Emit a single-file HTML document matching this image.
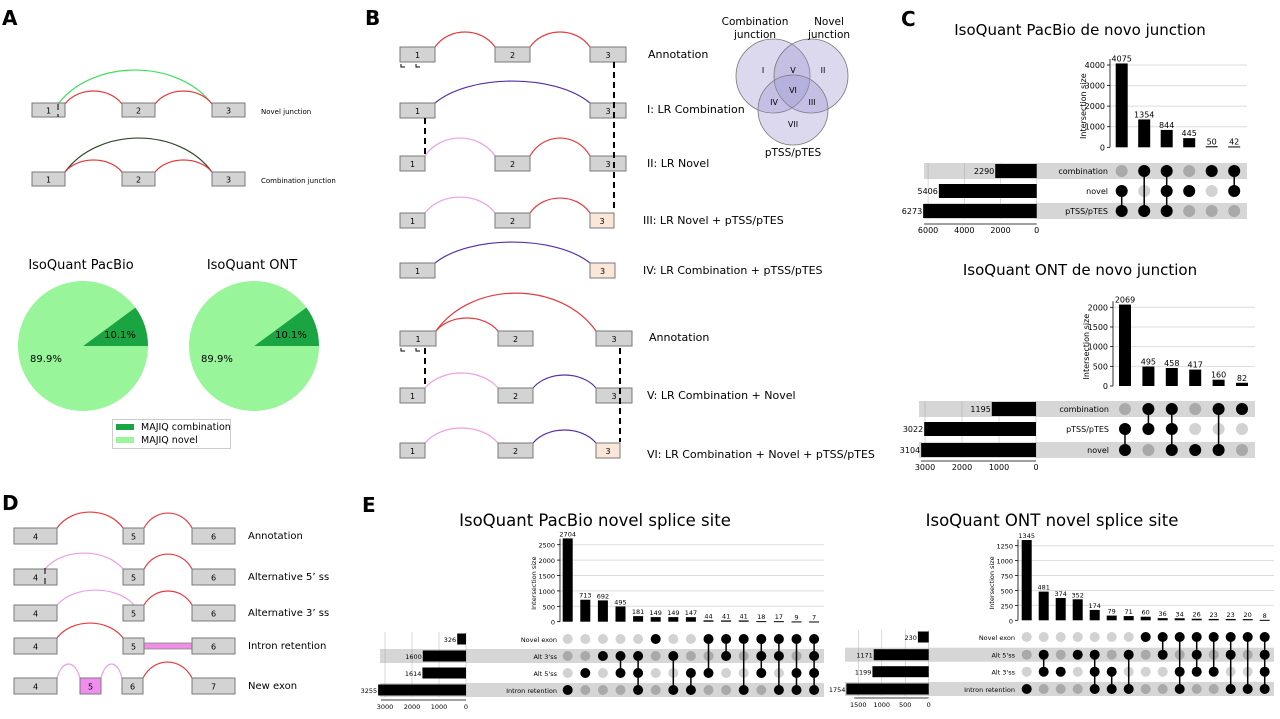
<!DOCTYPE html>
<html><head><meta charset="utf-8"><style>
html,body{margin:0;padding:0;background:#fff;}
svg text{font-family:"DejaVu Sans","Liberation Sans",sans-serif;}
</style></head><body>
<svg id="fig" width="1280" height="714" viewBox="0 0 1280 714" xmlns="http://www.w3.org/2000/svg">
<g font-family="Liberation Sans" font-weight="bold" font-size="20" fill="#000">
<text x="2" y="25">A</text>
<text x="365" y="25">B</text>
<text x="901" y="26">C</text>
<text x="2" y="510">D</text>
<text x="362" y="512">E</text>
</g>
<text x="1080" y="35" font-size="15" text-anchor="middle">IsoQuant PacBio de novo junction</text>
<text x="1080" y="275" font-size="15" text-anchor="middle">IsoQuant ONT de novo junction</text>
<text x="595" y="526" font-size="16.5" text-anchor="middle">IsoQuant PacBio novel splice site</text>
<text x="1052" y="526" font-size="16.5" text-anchor="middle">IsoQuant ONT novel splice site</text>
<g id="diag"></g>
<g id="pies"></g>
<g id="ups"></g>
</svg>
<script>
// ===== Upset data =====
const c1Sets = ["combination","novel","pTSS/pTES"];
const c1SetSizes = [2290,5406,6273];
const c1Values = [4075,1354,844,445,50,42];
const c1Members = [[1,2],[0,2],[0,1,2],[1],[0],[0,1]];
const c1Ticks = [0,1000,2000,3000,4000];
const c1SetTicks = [0,2000,4000,6000];

const c2Sets = ["combination","pTSS/pTES","novel"];
const c2SetSizes = [1195,3022,3104];
const c2Values = [2069,495,458,417,160,82];
const c2Members = [[1,2],[0,1],[0,1,2],[2],[0,2],[0]];
const c2Ticks = [0,500,1000,1500,2000];
const c2SetTicks = [0,1000,2000,3000];

const e1Sets = ["Novel exon","Alt 3'ss","Alt 5'ss","Intron retention"];
const e1SetSizes = [326,1600,1614,3255];
const e1Values = [2704,713,692,495,181,149,149,147,44,41,41,18,17,9,7];
const e1Members = [[3],[2],[1],[1,2],[1,2,3],[0],[1,3],[2,3],[0,2],[0,1],[0,3],[0,1,2],[0,1,3],[0,2,3],[0,1,2,3]];
const e1Ticks = [0,500,1000,1500,2000,2500];
const e1SetTicks = [0,1000,2000,3000];

const e2Sets = ["Novel exon","Alt 5'ss","Alt 3'ss","Intron retention"];
const e2SetSizes = [230,1171,1199,1754];
const e2Values = [1345,481,374,352,174,79,71,60,36,34,26,23,23,20,8];
const e2Members = [[3],[1,2],[2],[1],[1,2,3],[2,3],[1,3],[0],[0,1],[0,2,3],[0,1,2],[0,2],[0,1,3],[0,3],[0,1,2,3]];
const e2Ticks = [0,250,500,750,1000,1250];
const e2SetTicks = [0,500,1000,1500];

const pieShares = [10.1, 89.9];
const pieLabels = ["MAJIQ combination","MAJIQ novel"];

const NS="http://www.w3.org/2000/svg";
function mk(parent,tag,attrs,txt){const e=document.createElementNS(NS,tag);for(const k in attrs)e.setAttribute(k,attrs[k]);if(txt!==undefined)e.textContent=txt;parent.appendChild(e);return e;}

function upset(cfg,sets,sizes,values,members,ticks,setTicks,prefix){
  const g=mk(document.getElementById('ups'),'g',{});
  
  
  const yS=v=>cfg.y0 - v*cfg.ppu;
  const xS=i=>cfg.col0 + i*cfg.dx;
  const sX=v=>cfg.setZero - v*cfg.sppu;
  // bands
  cfg.bands.forEach(r=>{const b=mk(g,'rect',{x:cfg.bandX0,y:cfg.rows[r]-cfg.bandH/2,width:cfg.bandX1-cfg.bandX0,height:cfg.bandH,fill:'#d6d6d6'});
    
    });
  // grid & y ticks
  ticks.forEach(t=>{const y=yS(t);
    if(t>0) mk(g,'line',{x1:cfg.axisX,x2:cfg.gridEnd,y1:y,y2:y,stroke:'#ddd','stroke-width':1});
    mk(g,'line',{x1:cfg.axisX-3,x2:cfg.axisX,y1:y,y2:y,stroke:'#000','stroke-width':0.8});
    const tl=mk(g,'text',{x:cfg.axisX-5,y:y+3,'font-size':cfg.fs,'text-anchor':'end'},String(t));
    
    });
  mk(g,'line',{x1:cfg.axisX,x2:cfg.axisX,y1:cfg.y0,y2:yS(ticks[ticks.length-1])-6,stroke:'#000','stroke-width':0.8});
  const yt=mk(g,'text',{x:0,y:0,'font-size':cfg.fs,'text-anchor':'middle',transform:`translate(${cfg.axisX-cfg.ytOff},${(cfg.y0+yS(ticks[ticks.length-1]))/2}) rotate(-90)`},'Intersection size');
  
  
  // bars
  values.forEach((v,i)=>{const x=xS(i);
    const r=mk(g,'rect',{x:x-cfg.bw/2,y:yS(v),width:cfg.bw,height:Math.max(1,v*cfg.ppu),fill:'#000'});
    
    
    const l=mk(g,'text',{x:x,y:yS(v)-2,'font-size':cfg.fs,'text-anchor':'middle'},String(v));
    
    });
  // set grid
  setTicks.forEach(t=>{const x=sX(t);
    mk(g,'line',{x1:x,x2:x,y1:cfg.rows[0]-cfg.bandH/2,y2:cfg.rows[cfg.rows.length-1]+cfg.bandH/2,stroke:'#999','stroke-width':0.6,'stroke-opacity':0.6});
    const tl=mk(g,'text',{x:x,y:cfg.setTickY,'font-size':cfg.fs,'text-anchor':'middle'},String(t));
    
    });
  mk(g,'line',{x1:sX(setTicks[setTicks.length-1])-4,x2:cfg.setZero,y1:cfg.setTickY-9,y2:cfg.setTickY-9,stroke:'#000','stroke-width':0.8});
  sets.forEach((s,r)=>{const y=cfg.rows[r];
    const b=mk(g,'rect',{x:sX(sizes[r]),y:y-cfg.sbh/2,width:sizes[r]*cfg.sppu,height:cfg.sbh,fill:'#000'});
    
    
    const l=mk(g,'text',{x:sX(sizes[r])-1,y:y+3,'font-size':cfg.fs,'text-anchor':'end'},String(sizes[r]));
    
    
    const n=mk(g,'text',{x:cfg.labelX,y:y+3,'font-size':cfg.fs,'text-anchor':'end'},s);
    
    });
  // matrix
  members.forEach((m,i)=>{const x=xS(i);
    sets.forEach((s,r)=>{if(m.indexOf(r)<0){const c=mk(g,'circle',{cx:x,cy:cfg.rows[r],r:cfg.dr,fill:cfg.bands.indexOf(r)>=0?'#a9a9a9':'#d2d2d2'});
      
      }});
    const ys=m.map(r=>cfg.rows[r]);
    if(ys.length>1) mk(g,'line',{x1:x,x2:x,y1:Math.min(...ys),y2:Math.max(...ys),stroke:'#000','stroke-width':1.5});
    m.forEach(r=>{const c=mk(g,'circle',{cx:x,cy:cfg.rows[r],r:cfg.dr,fill:'#000'});
      
      });
  });
}

upset({col0:1121.7,dx:22.5,axisX:1110,gridEnd:1247,y0:147.3,ppu:82.3/4000,bw:12,fs:8,ytOff:24,
  setZero:1036.7,sppu:18.1/1000,rows:[171,191,211],bands:[0,2],bandX0:924,bandX1:1247,bandH:16,sbh:14,dr:6,labelX:1108,setTickY:233},
  c1Sets,c1SetSizes,c1Values,c1Members,c1Ticks,c1SetTicks,'c-pacbio');
upset({col0:1125,dx:23.4,axisX:1113,gridEnd:1255,y0:386,ppu:78.7/2000,bw:12,fs:8,ytOff:24,
  setZero:1036,sppu:37/1000,rows:[409,429,450],bands:[0,2],bandX0:919,bandX1:1255,bandH:16,sbh:14,dr:6,labelX:1109,setTickY:470},
  c2Sets,c2SetSizes,c2Values,c2Members,c2Ticks,c2SetTicks,'c-ont');
upset({col0:567.7,dx:17.6,axisX:560,gridEnd:824,y0:621.7,ppu:77/2500,bw:10,fs:6.5,ytOff:24,
  setZero:466,sppu:27/1000,rows:[639,656,673,690],bands:[1,3],bandX0:380,bandX1:824,bandH:14,sbh:11,dr:5,labelX:557,setTickY:709},
  e1Sets,e1SetSizes,e1Values,e1Members,e1Ticks,e1SetTicks,'e-pacbio');
upset({col0:1026.7,dx:17,axisX:1018,gridEnd:1274,y0:620.3,ppu:74.6/1250,bw:10,fs:6.5,ytOff:24,
  setZero:928.7,sppu:70.4/1500,rows:[637,654.7,671.7,689],bands:[1,3],bandX0:845,bandX1:1274,bandH:14,sbh:11,dr:5,labelX:1015,setTickY:707},
  e2Sets,e2SetSizes,e2Values,e2Members,e2Ticks,e2SetTicks,'e-ont');

// ===== Pies =====
(function(){
  const g=document.getElementById('pies');
  const pies=[{cx:83,cy:346,t:'IsoQuant PacBio',n:'pie-pacbio'},{cx:254,cy:346,t:'IsoQuant ONT',n:'pie-ont'}];
  const R=65, cols=['#1aa542','#98f59a'];
  pies.forEach(p=>{
    const tt=mk(g,'text',{x:p.cx-2,y:269,'font-size':13,'text-anchor':'middle'},p.t);
    
    
    let a0=0;
    pieShares.forEach((s,i)=>{const a1=a0+s/100*2*Math.PI;
      const x0=p.cx+R*Math.cos(a0),y0=p.cy-R*Math.sin(a0),x1=p.cx+R*Math.cos(a1),y1=p.cy-R*Math.sin(a1);
      const path=mk(g,'path',{d:`M${p.cx},${p.cy} L${x0},${y0} A${R},${R} 0 ${s>50?1:0} 0 ${x1},${y1} Z`,fill:cols[i]});
      
      
      const am=(a0+a1)/2, rr=0.6*R;
      const l=mk(g,'text',{x:p.cx+rr*Math.cos(am),y:p.cy-rr*Math.sin(am)+4,'font-size':10,'text-anchor':'middle'},s.toFixed(1)+'%');
      
      
      a0=a1;});
  });
  const lg=mk(g,'g',{});
  
  
  mk(lg,'rect',{x:112.5,y:419.5,width:118,height:29,fill:'#fff',stroke:'#ccc'});
  pieLabels.forEach((t,i)=>{mk(lg,'rect',{x:116,y:424+i*13,width:18,height:6,fill:cols[i]});
    const l=mk(lg,'text',{x:141,y:430+i*13,'font-size':9.5},t);
    
    });
})();

// ===== Diagrams =====
(function(){
  const g=document.getElementById('diag');
  function exon(x,y,w,h,lab,fill,fs){const r=mk(g,'rect',{x:x,y:y,width:w,height:h,fill:fill||'#d3d3d3',stroke:'#7a7a7a','stroke-width':1});
    
    
    mk(g,'text',{x:x+w/2,y:y+h/2+3.5,'font-size':fs||8,'text-anchor':'middle'},lab);}
  function arc(x1,x2,y,peak,col,sw){const mx=(x1+x2)/2;mk(g,'path',{d:`M${x1},${y} C${x1+(mx-x1)*0.45},${peak-(y-peak)*0.33} ${x2-(x2-mx)*0.45},${peak-(y-peak)*0.33} ${x2},${y}`,fill:'none',stroke:col,'stroke-width':sw||1.2});}
  function lab(x,y,t,fs,fam){const e=mk(g,'text',{x:x,y:y,'font-size':fs||10,'font-family':fam||'Liberation Sans'},t);
    
    }
  function dash(x,y1,y2,sw){mk(g,'line',{x1:x,x2:x,y1:y1,y2:y2,stroke:'#000','stroke-width':sw||2,'stroke-dasharray':'6,4'});}
  const red='#e8393f', pink='#ee9de6', purple='#5a2ea6';
  // Panel A
  arc(58,212,104,70,'#3ee05a',1.2); arc(65,122,104,91,red); arc(155,212,104,91,red);
  exon(32,103,33,14,'1'); exon(122,103,33,14,'2'); exon(212,103,33,14,'3');
  dash(58,104,117,1); lab(261,114,'Novel junction',7);
  arc(65,212,172,138,'#2f4a2a',1.2); arc(65,122,172,160,red); arc(155,212,172,160,red);
  exon(32,172,33,14,'1'); exon(122,172,33,14,'2'); exon(212,172,33,14,'3');
  lab(261,183,'Combination junction',7);
  // Panel B
  arc(435,495,47,32,red); arc(530,590,47,32,red);
  exon(400,47,35,15,'1'); exon(495,47,35,15,'2'); exon(590,47,36,15,'3'); lab(648,58,'Annotation',11);
  arc(435,590,103,81,purple); exon(400,103,35,15,'1'); exon(590,103,36,15,'3'); lab(647,113,'I: LR Combination',11);
  arc(425,495,156,138,pink); arc(530,590,156,138,red);
  exon(400,156,25,15,'1'); exon(495,156,35,15,'2'); exon(590,156,36,15,'3'); lab(647,167,'II: LR Novel',11);
  arc(425,495,213,197,pink); arc(530,590,213,198,red);
  exon(400,213,25,15,'1'); exon(495,213,35,15,'2'); exon(590,213,24,15,'3','#fbe6d8'); lab(643,224,'III: LR Novel + pTSS/pTES',11);
  arc(435,590,263,242,purple); exon(400,263,35,15,'1'); exon(590,263,25,15,'3','#fbe6d8'); lab(643,274,'IV: LR Combination + pTSS/pTES',11);
  arc(436,596,331,293,red); arc(436,498,331,318,red);
  exon(400,331,36,15,'1'); exon(498,331,35,15,'2'); exon(596,331,36,15,'3'); lab(649,341,'Annotation',11);
  arc(425,498,388,373,pink); arc(533,596,388,375,purple);
  exon(400,388,25,15,'1'); exon(498,388,35,15,'2'); exon(596,388,36,15,'3'); lab(647,399,'V: LR Combination + Novel',11);
  arc(425,498,443,428,pink); arc(533,596,443,430,purple);
  exon(400,443,25,15,'1'); exon(498,443,35,15,'2'); exon(596,443,24,15,'3','#fbe6d8'); lab(647,458,'VI: LR Combination + Novel + pTSS/pTES',11);
  dash(614,62,210); dash(425,118,156); dash(425,348,388); dash(620,348,442);
  // bracket marks
  [[401,67],[416,67],[401,351],[416,351]].forEach(p=>mk(g,'path',{d:`M${p[0]},${p[1]-3} v3 h4`,fill:'none',stroke:'#000','stroke-width':1}));
  // Venn
  [[773,76,37],[811,76,37],[793,110,35]].forEach(c=>{const e=mk(g,'circle',{cx:c[0],cy:c[1],r:c[2],fill:'#9c93cf','fill-opacity':0.35,stroke:'#777','stroke-width':0.8});
    
    });
  const vn=[['I',763,73],['V',793,73],['II',823,73],['VI',793,93],['IV',774,105],['III',812,105],['VII',793,127]];
  vn.forEach(v=>mk(g,'text',{x:v[1],y:v[2],'font-size':8,'font-family':'Liberation Serif','text-anchor':'middle'},v[0]));
  [['Combination',755,25],['junction',755,38],['Novel',829,25],['junction',829,38],['pTSS/pTES',793,156]].forEach(v=>{const e=mk(g,'text',{x:v[1],y:v[2],'font-size':10.5,'font-family':'Liberation Sans','text-anchor':'middle'},v[0]);
    
    });
  // Panel D
  function drow(y,arcs,exons,label){arcs.forEach(a=>arc(a[0],a[1],y,a[2],a[3]));exons.forEach(e=>exon(e[0],y,e[1],16,e[2],e[3],8));lab(248,y+11,label,10);}
  drow(528,[[57,123,512,red],[144,192,513,red]],[[14,43,'4'],[123,21,'5'],[192,43,'6']],'Annotation');
  drow(569,[[45,123,553,pink],[144,192,554,red]],[[14,43,'4'],[123,21,'5'],[192,43,'6']],'Alternative 5\u2019 ss');
  dash(45,568,584,1);
  drow(605,[[57,134,590,pink],[144,192,591,red]],[[14,43,'4'],[123,21,'5'],[192,43,'6']],'Alternative 3\u2019 ss');
  mk(g,'rect',{x:144,y:643,width:48,height:6,fill:'#ee8ee6',stroke:'#888','stroke-width':0.8});
  drow(638,[[57,123,623,red]],[[14,43,'4'],[123,21,'5'],[192,43,'6']],'Intron retention');
  drow(678,[[57,80,664,pink],[101,122,664,pink],[143,192,662,red]],[[14,43,'4'],[80,21,'5','#f08ef0'],[122,21,'6'],[192,43,'7']],'New exon');
})();
</script>
</body></html>
